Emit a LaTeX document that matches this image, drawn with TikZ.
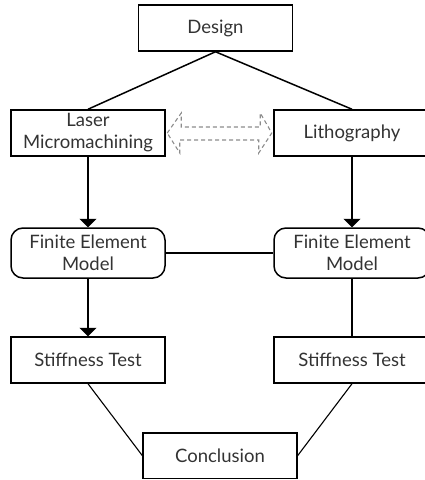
\documentclass[tikz,border=0pt]{standalone}
\usepackage{fontspec}
\setmainfont{Lato}
\usetikzlibrary{arrows.meta}
\definecolor{txt}{HTML}{333333}
\begin{document}
\begin{tikzpicture}[x=1pt,y=-1pt,
  every node/.style={font=\fontsize{18.5}{22}\selectfont, text=txt, align=center, inner sep=0pt},
  box/.style={draw=black, line width=1.5pt, minimum width=154pt, minimum height=46pt},
  roundbox/.style={box, rounded corners=12pt, minimum height=50pt},
  link/.style={draw=black, line width=1.5pt},
  thin/.style={draw=black, line width=1.1pt},
  arr/.style={link, -{Triangle[width=17pt,length=8.5pt]}},
  dasharrow/.style={draw=black!45, line width=1.1pt, dash pattern=on 4pt off 3pt}
]
\useasboundingbox (0,0) rectangle (425,480);
\node[box] (design) at (215.5,28) {Design};
\node[box] (laser) at (88,133) {Laser\\Micromachining};
\node[box, minimum width=156pt] (litho) at (352,133) {Lithography};
\node[roundbox] (femL) at (88,253) {Finite Element\\Model};
\node[roundbox, minimum width=156pt] (femR) at (352,253) {Finite Element\\Model};
\node[box] (stL) at (88,360) {Stiffness Test};
\node[box, minimum width=156pt] (stR) at (352,360) {Stiffness Test};
\node[box, minimum width=154pt, minimum height=45.5pt] (conc) at (220,455.5) {Conclusion};

\draw[link] (design.south) -- (laser.north);
\draw[link] (design.south) -- (litho.north);
\draw[arr] (laser.south) -- (femL.north);
\draw[arr] (litho.south) -- (femR.north);
\draw[link] (femL.east) -- (femR.west);
\draw[arr] (femL.south) -- (stL.north);
\draw[link] (femR.south) -- (stR.north);
\draw[thin] (stL.south) -- (conc.west);
\draw[thin] (stR.south) -- (conc.east);

% dashed double block arrow between laser and litho
\coordinate (dl) at ([xshift=1.5pt]laser.east);
\coordinate (dr) at ([xshift=-1.5pt]litho.west);
\draw[dasharrow] (dl) -- ++(14,-20) -- ++(0,14) -- ++(79,0) -- ++(0,-14)
  -- (dr) -- ++(-13,20) -- ++(0,-13) -- ++(-79,0) -- ++(0,13) -- cycle;
\end{tikzpicture}
\end{document}
